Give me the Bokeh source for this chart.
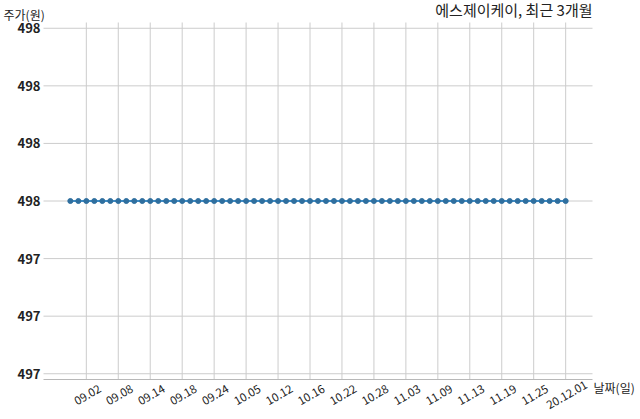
from bokeh.plotting import figure
from bokeh.models import ColumnDataSource, FixedTicker, Label, LabelSet, Range1d
from bokeh.core.properties import value
from bokeh.embed import file_html
from bokeh.resources import INLINE

# ---- data ----
dates = [
    "08.31", "09.01", "09.02", "09.03", "09.04", "09.07", "09.08", "09.09", "09.10", "09.11",
    "09.14", "09.15", "09.16", "09.17", "09.18", "09.21", "09.22", "09.23", "09.24", "09.25",
    "09.28", "09.29", "10.05", "10.06", "10.07", "10.08", "10.12", "10.13", "10.14", "10.15",
    "10.16", "10.19", "10.20", "10.21", "10.22", "10.23", "10.26", "10.27", "10.28", "10.29",
    "10.30", "11.02", "11.03", "11.04", "11.05", "11.06", "11.09", "11.10", "11.11", "11.12",
    "11.13", "11.16", "11.17", "11.18", "11.19", "11.20", "11.23", "11.24", "11.25", "11.26",
    "11.27", "11.30", "20.12.01",
]
prices = [
    498, 498, 498, 498, 498, 498, 498, 498, 498, 498,
    498, 498, 498, 498, 498, 498, 498, 498, 498, 498,
    498, 498, 498, 498, 498, 498, 498, 498, 498, 498,
    498, 498, 498, 498, 498, 498, 498, 498, 498, 498,
    498, 498, 498, 498, 498, 498, 498, 498, 498, 498,
    498, 498, 498, 498, 498, 498, 498, 498, 498, 498,
    498, 498, 498,
]
x_tick_labels = ["09.02", "09.08", "09.14", "09.18", "09.24", "10.05", "10.12", "10.16",
                 "10.22", "10.28", "11.03", "11.09", "11.13", "11.19", "11.25", "20.12.01"]
y_ticks = [497.7, 497.8, 497.9, 498.0, 498.1, 498.2, 498.3]
y_tick_labels = ["497", "497", "497", "498", "498", "498", "498"]
title_text = "에스제이케이, 최근 3개월"
y_label_text = "주가(원)"
x_label_text = "날짜(일)"

FONT = "Noto Sans CJK KR"
GRID = "#cccccc"
TEXT = "#222222"

idx = list(range(len(dates)))
x_tick_pos = [idx[dates.index(d)] for d in x_tick_labels]

# data limits of the plotting area
x_lo, x_hi = -3.36, len(dates) - 1 + 3.36
y_lo, y_hi = 497.69, 498.31

# the frame covers the whole canvas; the plotting area sits inside it
W, H = 640, 419
AREA_L, AREA_R, AREA_T, AREA_B = 43, 592, 22, 379
kx = (x_hi - x_lo) / (AREA_R - AREA_L)
ky = (y_hi - y_lo) / (AREA_B - AREA_T)
full_x = (x_lo - AREA_L * kx, x_hi + (W - AREA_R) * kx)
full_y = (y_lo - (H - AREA_B) * ky, y_hi + AREA_T * ky)

p = figure(width=W, height=H, output_backend="svg", toolbar_location=None,
           x_range=Range1d(*full_x), y_range=Range1d(*full_y), min_border=0,
           min_border_left=0, min_border_right=0, min_border_top=0, min_border_bottom=0)
p.outline_line_color = None
p.background_fill_color = "white"
p.border_fill_color = "white"
p.xgrid.visible = False
p.ygrid.visible = False

# grid lines limited to the plotting area
p.segment(x0=x_lo, x1=x_hi, y0=y_ticks, y1=y_ticks, line_color=GRID, line_width=1)
p.segment(x0=x_tick_pos, x1=x_tick_pos, y0=y_lo, y1=y_hi, line_color=GRID, line_width=1)

src = ColumnDataSource(dict(x=idx, y=prices, d=dates))
p.line("x", "y", source=src, line_color="#3d8bc4", line_width=2)
p.scatter("x", "y", source=src, size=5, fill_color="#2f6f9f", line_color="#2f6f9f")

# x axis: line at the bottom of the plotting area
xa = p.xaxis[0]
xa.fixed_location = y_lo
xa.bounds = (x_lo, x_hi)
xa.ticker = FixedTicker(ticks=x_tick_pos)
xa.major_label_overrides = {pos: "" for pos in x_tick_pos}
xa.major_tick_line_color = None
xa.minor_tick_line_color = None
xa.major_tick_out = 0
xa.major_tick_in = 0
xa.axis_line_color = "#b8b8b8"

# x tick labels centred under their ticks
tick_src = ColumnDataSource(dict(x=x_tick_pos, text=x_tick_labels))
p.add_layout(LabelSet(x="x", y=y_lo, text="text", source=tick_src, angle=0.5236,
                      text_align="center", text_baseline="middle", x_offset=1, y_offset=-15,
                      text_font=value(FONT), text_font_size=value("11.5px"),
                      text_color=TEXT))

# y axis at the left of the plotting area
ya = p.yaxis[0]
ya.fixed_location = x_lo
ya.bounds = (y_lo, y_hi)
ya.ticker = FixedTicker(ticks=y_ticks)
ya.major_label_overrides = {t: lab for t, lab in zip(y_ticks, y_tick_labels)}
ya.major_label_text_font = FONT
ya.major_label_text_font_size = "13px"
ya.major_label_text_font_style = "bold"
ya.major_label_text_color = TEXT
ya.major_tick_line_color = None
ya.minor_tick_line_color = None
ya.major_tick_out = 0
ya.major_tick_in = 0
ya.axis_line_color = None
ya.major_label_standoff = 3

# texts
p.add_layout(Label(x=x_hi, y=y_hi, text=title_text, text_align="right", text_baseline="bottom",
                   y_offset=3, text_font=FONT, text_font_size="15px", text_color=TEXT))
p.add_layout(Label(x=x_lo, y=y_hi, text=y_label_text, text_align="left", text_baseline="bottom",
                   x_offset=-40, y_offset=0, text_font=FONT, text_font_size="12px",
                   text_color=TEXT))
p.add_layout(Label(x=x_hi, y=y_lo, text=x_label_text, text_align="left", text_baseline="middle",
                   x_offset=1, y_offset=-8, text_font=FONT, text_font_size="12px",
                   text_color=TEXT))

open("out.html", "w").write(file_html(p, INLINE))
